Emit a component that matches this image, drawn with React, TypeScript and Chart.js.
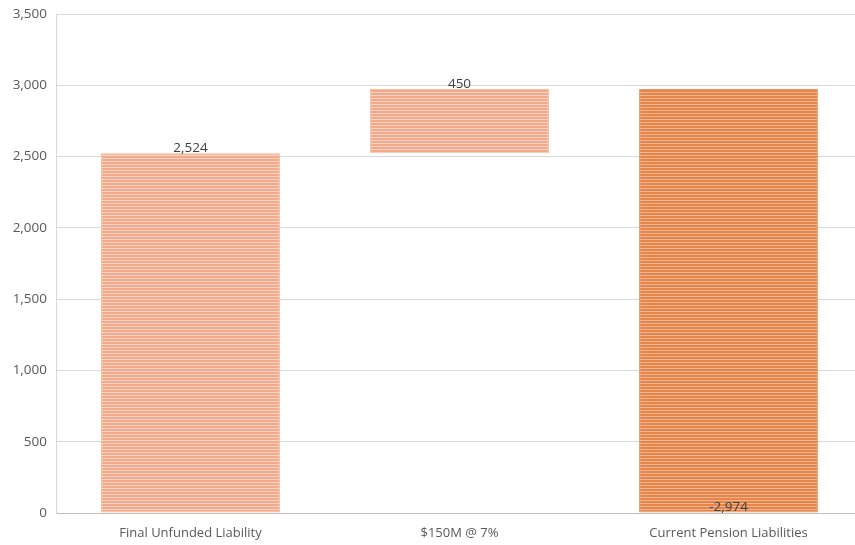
import React, { useEffect, useRef } from "react";
import { Chart, registerables } from "chart.js";

Chart.register(...registerables);

const categories = ["Final Unfunded Liability", "$150M @ 7%", "Current Pension Liabilities"];
const barStarts = [0, 2524, 0];
const barEnds = [2524, 2974, 2974];
const valueLabels = ["2,524", "450", "-2,974"];
const yTicks = [0, 500, 1000, 1500, 2000, 2500, 3000, 3500];

function makePattern(base: string, light: string): CanvasPattern | string {
  const c = document.createElement("canvas");
  c.width = 4;
  c.height = 3;
  const ctx = c.getContext("2d");
  if (!ctx) return base;
  ctx.fillStyle = base;
  ctx.fillRect(0, 0, 4, 3);
  ctx.fillStyle = light;
  ctx.fillRect(0, 2, 4, 1);
  const p = ctx.createPattern(c, "repeat");
  return p || base;
}

const labelPlugin = {
  id: "valueLabels",
  afterDatasetsDraw(chart: any) {
    const ctx = chart.ctx;
    const meta = chart.getDatasetMeta(0);
    ctx.save();
    ctx.font = "13.5px 'Open Sans', sans-serif";
    ctx.fillStyle = "#404040";
    ctx.textAlign = "center";
    ctx.textBaseline = "bottom";
    meta.data.forEach((bar: any, i: number) => {
      const y = chart.scales.y;
      if (i === 2) {
        ctx.fillText(valueLabels[i], bar.x, y.getPixelForValue(barStarts[i]) + 1);
      } else {
        ctx.fillText(valueLabels[i], bar.x, y.getPixelForValue(barEnds[i]) + 2);
      }
    });
    ctx.restore();
  },
};

export default function App() {
  const ref = useRef<HTMLCanvasElement>(null);
  useEffect(() => {
    if (!ref.current) return;
    const light = makePattern("#F5A98A", "#FBD5C5");
    const dark = makePattern("#E5854A", "#F0B48E");
    const chart = new Chart(ref.current, {
      type: "bar",
      data: {
        labels: categories,
        datasets: [
          {
            data: barStarts.map((s, i) => [s, barEnds[i]]) as any,
            backgroundColor: [light, light, dark] as any,
            borderColor: ["#F7B9A0", "#F7B9A0", "#E99A68"],
            borderWidth: 1,
            borderSkipped: false,
            barPercentage: 0.665,
            categoryPercentage: 1,
          },
        ],
      },
      options: {
        animation: false,
        responsive: false,
        maintainAspectRatio: false,
        layout: { padding: { top: 14, right: 0, left: 0, bottom: 0 } },
        plugins: { legend: { display: false }, tooltip: { enabled: false } },
        scales: {
          x: {
            grid: { display: false },
            border: { display: true, color: "#BFBFBF", width: 1 },
            ticks: {
              color: "#595959",
              font: { family: "'Open Sans', sans-serif", size: 13 },
              padding: 4,
            },
            afterFit: (s: any) => {
              s.height = 32;
              s.paddingLeft = 0;
              s.paddingRight = 0;
            },
          },
          y: {
            min: 0,
            max: 3500,
            afterBuildTicks: (s: any) => {
              s.ticks = yTicks.map((v) => ({ value: v }));
            },
            grid: { color: "#D9D9D9", lineWidth: 1, drawTicks: false },
            border: { display: true, color: "#D9D9D9" },
            ticks: {
              color: "#595959",
              font: { family: "'Open Sans', sans-serif", size: 13.5 },
              padding: 9,
              callback: (v: any) => Number(v).toLocaleString("en-US"),
            },
            afterFit: (s: any) => {
              s.width = 56;
              s.paddingTop = 0;
              s.paddingBottom = 0;
            },
          },
        },
      },
      plugins: [labelPlugin],
    });
    return () => chart.destroy();
  }, []);
  return (
    <div style={{ position: "absolute", left: 0, top: 0, width: 855, height: 545, overflow: "hidden", background: "#fff" }}>
      <canvas ref={ref} width={863} height={545} style={{ width: 863, height: 545, display: "block" }} />
    </div>
  );
}
